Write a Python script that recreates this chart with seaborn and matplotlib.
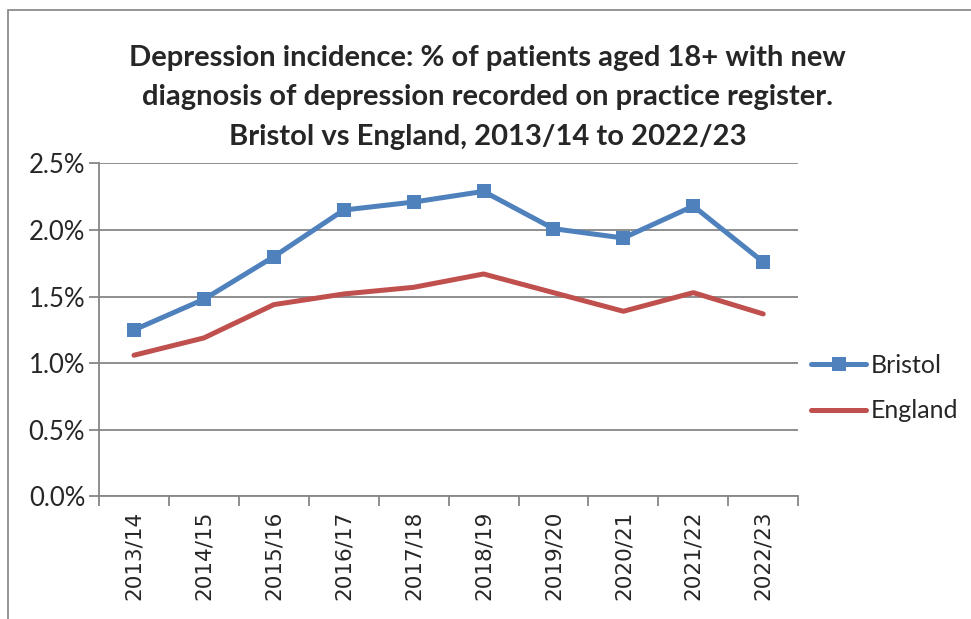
import pandas as pd
import seaborn as sns
import matplotlib.pyplot as plt
from matplotlib.ticker import FuncFormatter, FixedLocator
from matplotlib.patches import Rectangle

# data (% of patients aged 18+)
years = ["2013/14", "2014/15", "2015/16", "2016/17", "2017/18",
         "2018/19", "2019/20", "2020/21", "2021/22", "2022/23"]
bristol = [1.25, 1.48, 1.80, 2.15, 2.21, 2.29, 2.01, 1.94, 2.18, 1.76]
england = [1.06, 1.19, 1.44, 1.52, 1.57, 1.67, 1.53, 1.39, 1.53, 1.37]

sns.set_theme(style="white")
plt.rcParams["font.family"] = ["Lato", "DejaVu Sans"]

fig = plt.figure(figsize=(9.71, 6.19), dpi=100)
ax = fig.add_axes([0.102, 0.198, 0.72, 0.538])

sns.lineplot(x=years, y=bristol, color="#4F81BD", marker="s", linewidth=3.6,
             markersize=10, markeredgewidth=0, label="Bristol", ax=ax, sort=False)
sns.lineplot(x=years, y=england, color="#C0504D", linewidth=3.6,
             label="England", ax=ax, sort=False, solid_capstyle="round")

ax.set_xlim(-0.5, len(years) - 0.5)
ax.set_ylim(0, 2.5)
ax.set_yticks([0, 0.5, 1.0, 1.5, 2.0, 2.5])
ax.yaxis.set_major_formatter(FuncFormatter(lambda v, p: f"{v:.1f}%"))
ax.grid(axis="y", color="#868686", linewidth=1.3)
ax.set_axisbelow(True)

# ticks at category boundaries, labels centred
ax.xaxis.set_minor_locator(FixedLocator([i - 0.5 for i in range(len(years) + 1)]))
ax.tick_params(axis="x", which="major", length=0, pad=10)
ax.tick_params(axis="x", which="minor", length=7, width=1.3, color="#868686", bottom=True)
ax.tick_params(axis="y", length=7, width=1.3, color="#868686", left=True, labelsize=18.5, pad=3)
for lab in ax.get_xticklabels():
    lab.set_rotation(90)
    lab.set_fontfamily("DejaVu Sans")
    lab.set_fontsize(15.5)

for s in ["top", "right"]:
    ax.spines[s].set_visible(False)
for s in ["left", "bottom"]:
    ax.spines[s].set_color("#868686")
    ax.spines[s].set_linewidth(1.3)

ax.set_xlabel("")
ax.set_ylabel("")

ax.legend(loc="center left", bbox_to_anchor=(811 / 971, 0.373),
          bbox_transform=fig.transFigure, frameon=False,
          fontsize=18, handlelength=2.2, handletextpad=0.2,
          labelspacing=0.9, borderpad=0, borderaxespad=0)

fig.text(0.502, 0.843,
         "Depression incidence: % of patients aged 18+ with new\n"
         "diagnosis of depression recorded on practice register.\n"
         "Bristol vs England, 2013/14 to 2022/23",
         ha="center", va="center", fontsize=21, fontweight="bold",
         linespacing=1.65)

# chart-area border (only left and top visible in the crop)
fig.patches.append(Rectangle((8 / 971, -0.1), 1.2, 1 - 10 / 619 + 0.1,
                             transform=fig.transFigure, fill=False,
                             edgecolor="#8c8c8c", linewidth=1.3))

fig.savefig("out.png", dpi=100)
